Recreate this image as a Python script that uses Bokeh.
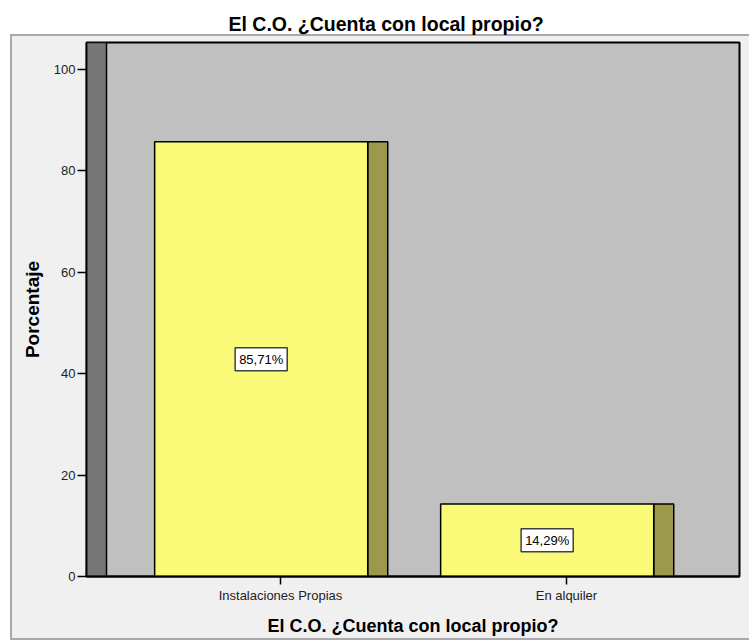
from bokeh.plotting import figure
from bokeh.models import ColumnDataSource, FixedTicker, Range1d, Label
from bokeh.embed import file_html
from bokeh.resources import INLINE

# Survey answers and their percentages
categories = ["Instalaciones Propias", "En alquiler"]
percentages = [85.71, 14.29]
y_ticks = [0, 20, 40, 60, 80, 100]

TITLE = "El C.O. ¿Cuenta con local propio?"
FONT = "Liberation Sans"

# Bar geometry relative to each category position (x units)
positions = [1, 2]
FRONT_LEFT = -0.44
FRONT_RIGHT = 0.305
DEPTH = 0.07

X_START, X_END = 0.3217, 2.605
Y_END = 105.3

source = ColumnDataSource(dict(
    pos=positions,
    cat=categories,
    pct=percentages,
    left=[x + FRONT_LEFT for x in positions],
    right=[x + FRONT_RIGHT for x in positions],
    side=[x + FRONT_RIGHT + DEPTH for x in positions],
))

# light chart panel with a thin grey edge, painted behind a transparent canvas
panel_css = ("linear-gradient(#f0f0f0, #f0f0f0) 12px 36px / 737px 602px no-repeat, "
             "linear-gradient(#a9a9a9, #a9a9a9) 10px 34px / 739px 606px no-repeat, "
             "white")

p = figure(width=749, height=642, output_backend="svg", toolbar_location=None,
           x_range=Range1d(X_START, X_END), y_range=Range1d(0, Y_END),
           min_border_left=86, min_border_right=10, min_border_top=42,
           min_border_bottom=66, styles={"background": panel_css})
p.background_fill_color = "#c0c0c0"
p.border_fill_color = None
p.outline_line_color = "black"
p.outline_line_width = 2
p.grid.visible = False

p.title.text = TITLE
p.title.align = "left"
p.title.offset = 142
p.title.standoff = 16
p.title.text_font = FONT
p.title.text_font_size = "19.5px"
p.title.text_font_style = "bold"
p.title.text_color = "black"

# left side wall
p.quad(left=X_START, right=X_START + DEPTH, bottom=0, top=Y_END,
       fill_color="#767676", line_color="black", line_width=1.5)

# bars: right side face and front face
p.quad(left="right", right="side", bottom=0, top="pct", source=source,
       fill_color="#9c9a4a", line_color="black", line_width=1.5)
p.quad(left="left", right="right", bottom=0, top="pct", source=source,
       fill_color="#fafa78", line_color="black", line_width=1.5)

# value labels in the middle of each bar
for x, v in zip(positions, percentages):
    txt = f"{v:.2f}".replace(".", ",") + "%"
    p.add_layout(Label(x=x + (FRONT_LEFT + FRONT_RIGHT) / 2, y=v / 2, text=txt,
                       text_align="center", text_baseline="middle",
                       text_font=FONT, text_font_size="13px", text_color="black",
                       background_fill_color="white", border_line_color="#404040",
                       border_line_width=1.5, padding=4))

# axes
p.yaxis.ticker = FixedTicker(ticks=y_ticks)
p.yaxis.axis_label = "Porcentaje"
p.yaxis.axis_label_text_font = FONT
p.yaxis.axis_label_text_font_size = "19px"
p.yaxis.axis_label_text_font_style = "bold"
p.yaxis.axis_label_text_color = "black"
p.yaxis.axis_label_standoff = 8
p.yaxis.major_tick_out = 9
p.yaxis.major_tick_in = 0
p.yaxis.minor_tick_out = 0
p.yaxis.minor_tick_in = 0
p.yaxis.major_label_standoff = 2
p.yaxis.major_label_text_font = FONT
p.yaxis.major_label_text_font_size = "13px"
p.yaxis.major_label_text_color = "#222222"
p.yaxis.axis_line_color = "black"
p.yaxis.axis_line_width = 1.5
p.yaxis.major_tick_line_width = 1.5

p.xaxis.ticker = FixedTicker(ticks=positions)
p.xaxis.major_label_overrides = dict(zip(positions, categories))
p.xaxis.axis_label = TITLE
p.xaxis.axis_label_text_font = FONT
p.xaxis.axis_label_text_font_size = "18px"
p.xaxis.axis_label_text_font_style = "bold"
p.xaxis.axis_label_text_color = "black"
p.xaxis.axis_label_standoff = 10
p.xaxis.major_tick_out = 8
p.xaxis.major_tick_in = 0
p.xaxis.minor_tick_out = 0
p.xaxis.minor_tick_in = 0
p.xaxis.major_label_standoff = 3
p.xaxis.major_label_text_font = FONT
p.xaxis.major_label_text_font_size = "13px"
p.xaxis.major_label_text_color = "#222222"
p.xaxis.axis_line_color = "black"
p.xaxis.axis_line_width = 2
p.xaxis.major_tick_line_width = 1.5

open("out.html", "w").write(file_html(p, INLINE))
